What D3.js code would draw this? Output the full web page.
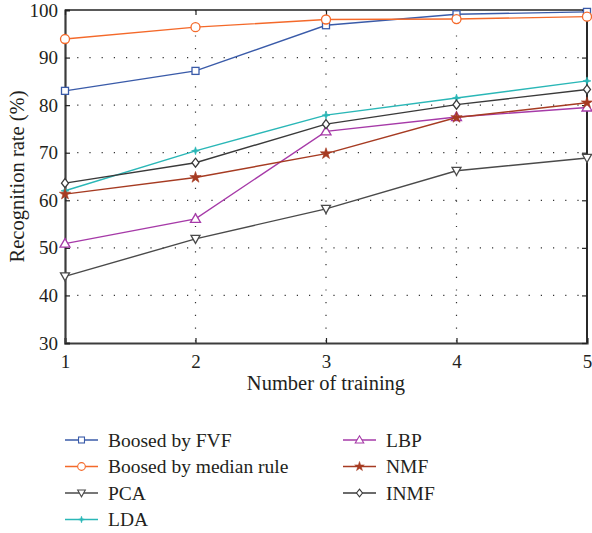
<!DOCTYPE html>
<html>
<head>
<meta charset="utf-8">
<script src="https://cdn.jsdelivr.net/npm/d3@7"></script>
<style>
body { margin: 0; background: #fff; }
text { font-family: "Liberation Serif", "DejaVu Serif", serif; fill: #231f20; }
</style>
</head>
<body>
<script>
var trainings = [1, 2, 3, 4, 5];
var yTicks = [30, 40, 50, 60, 70, 80, 90, 100];

var fvf = [83, 87.2, 96.8, 99.1, 99.6];
var median = [93.9, 96.4, 98, 98.1, 98.6];
var pca = [44, 51.9, 58.2, 66.2, 68.9];
var lda = [62, 70.4, 77.9, 81.5, 85.1];
var lbp = [50.9, 56.1, 74.5, 77.5, 79.5];
var nmf = [61.3, 64.8, 69.8, 77.4, 80.5];
var inmf = [63.6, 67.9, 76, 80.1, 83.3];

var seriesNames = ['Boosed by FVF', 'Boosed by median rule', 'PCA', 'LDA', 'LBP', 'NMF', 'INMF'];
var seriesValues = [fvf, median, pca, lda, lbp, nmf, inmf];
var seriesColors = ['#3a5ba9', '#f4692a', '#4a4a4a', '#2ab7b7', '#a63aa8', '#a63b22', '#3a3a3a'];
var seriesMarkers = ['square', 'circle', 'tridown', 'star4', 'triup', 'star', 'diamond'];

var width = 592, height = 533;
var m = {left: 65, right: 587, top: 10, bottom: 343};

var svg = d3.select('body').append('svg').attr('width', width).attr('height', height);

var x = d3.scaleLinear().domain([1, 5]).range([m.left, m.right]);
var y = d3.scaleLinear().domain([30, 100]).range([m.bottom, m.top]);

// dotted grid
svg.append('g').selectAll('line')
	.data(yTicks.slice(1, -1))
	.enter().append('line')
		.attr('x1', m.left).attr('x2', m.right)
		.attr('y1', d => y(d)).attr('y2', d => y(d))
		.attr('stroke', '#333').attr('stroke-width', 1.2)
		.attr('stroke-dasharray', '1.2,11');
svg.append('g').selectAll('line')
	.data(trainings.slice(1, -1))
	.enter().append('line')
		.attr('x1', d => x(d)).attr('x2', d => x(d))
		.attr('y1', m.top).attr('y2', m.bottom)
		.attr('stroke', '#333').attr('stroke-width', 1.2)
		.attr('stroke-dasharray', '1.2,11.5');

// frame: top and right, inward ticks
svg.append('line').attr('x1', m.left).attr('x2', m.right).attr('y1', m.top).attr('y2', m.top)
	.attr('stroke', '#222').attr('stroke-width', 1.5);
svg.append('line').attr('x1', m.right).attr('x2', m.right).attr('y1', m.top).attr('y2', m.bottom)
	.attr('stroke', '#111').attr('stroke-width', 1.8);

var xAxis = svg.append('g').attr('transform', 'translate(0,' + m.bottom + ')')
	.call(d3.axisBottom(x).tickValues(trainings).tickFormat(d3.format('d')).tickSize(-5).tickPadding(12));
var yAxis = svg.append('g').attr('transform', 'translate(' + m.left + ',0)')
	.call(d3.axisLeft(y).tickValues(yTicks).tickSize(-5).tickPadding(7));
svg.append('g').attr('transform', 'translate(0,' + m.top + ')')
	.call(d3.axisTop(x).tickValues(trainings).tickFormat('').tickSize(-5))
	.select('.domain').remove();
svg.append('g').attr('transform', 'translate(' + m.right + ',0)')
	.call(d3.axisRight(y).tickValues(yTicks).tickFormat('').tickSize(-5))
	.select('.domain').remove();

svg.selectAll('.tick line').attr('stroke', '#222').attr('stroke-width', 1.2);
[xAxis, yAxis].forEach(a => {
	a.select('.domain').attr('stroke', '#3c3c3c').attr('stroke-width', 2.2);
	a.selectAll('text').style('font-size', '19px').attr('fill', '#231f20')
		.style('font-family', '"Liberation Serif", "DejaVu Serif", serif');
});

// axis titles
svg.append('text')
	.attr('x', (m.left + m.right) / 2).attr('y', 390)
	.attr('text-anchor', 'middle')
	.attr('font-size', 20.5)
	.text('Number of training');
svg.append('text')
	.attr('transform', 'translate(24,' + ((m.top + m.bottom) / 2) + ') rotate(-90)')
	.attr('text-anchor', 'middle')
	.attr('font-size', 20.5)
	.text('Recognition rate (%)');

function marker(g, type, color) {
	var s;
	if (type === 'square') {
		g.append('rect').attr('x', -3.5).attr('y', -3.5).attr('width', 7).attr('height', 7)
			.attr('fill', 'white').attr('stroke', color).attr('stroke-width', 1.3);
	} else if (type === 'circle') {
		g.append('circle').attr('r', 4.5).attr('fill', 'white').attr('stroke', color).attr('stroke-width', 1.3);
	} else if (type === 'tridown') {
		g.append('path').attr('d', 'M-4.5,-3.5L4.5,-3.5L0,4.5Z')
			.attr('fill', 'white').attr('stroke', color).attr('stroke-width', 1.3);
	} else if (type === 'triup') {
		g.append('path').attr('d', 'M-5,3.5L5,3.5L0,-5Z')
			.attr('fill', 'white').attr('stroke', color).attr('stroke-width', 1.3);
	} else if (type === 'diamond') {
		g.append('path').attr('d', 'M0,-4.5L3.5,0L0,4.5L-3.5,0Z')
			.attr('fill', 'white').attr('stroke', color).attr('stroke-width', 1.3);
	} else if (type === 'star') {
		s = d3.symbol().type(d3.symbolStar).size(40);
		g.append('path').attr('d', s()).attr('fill', color).attr('stroke', color).attr('stroke-width', 0.6);
	} else if (type === 'star4') {
		g.append('path').attr('d', 'M0,-4L1,-1L4,0L1,1L0,4L-1,1L-4,0L-1,-1Z')
			.attr('fill', color).attr('stroke', color).attr('stroke-width', 0.6);
	}
}

var line = d3.line().x((d, i) => x(trainings[i])).y(d => y(d));

seriesValues.forEach((vals, k) => {
	svg.append('path')
		.datum(vals)
		.attr('d', line)
		.attr('fill', 'none')
		.attr('stroke', seriesColors[k])
		.attr('stroke-width', 1.4);
	vals.forEach((v, i) => {
		var g = svg.append('g').attr('transform', 'translate(' + x(trainings[i]) + ',' + y(v) + ')');
		marker(g, seriesMarkers[k], seriesColors[k]);
	});
});

// legend
var legendPos = [[65, 440], [65, 466.5], [65, 493], [65, 519.5], [343, 440], [343, 466.5], [343, 493]];
seriesNames.forEach((name, k) => {
	var p = legendPos[k];
	svg.append('line')
		.attr('x1', p[0]).attr('x2', p[0] + 33)
		.attr('y1', p[1]).attr('y2', p[1])
		.attr('stroke', seriesColors[k]).attr('stroke-width', 1.4);
	var g = svg.append('g').attr('transform', 'translate(' + (p[0] + 16.5) + ',' + p[1] + ') scale(0.85)');
	marker(g, seriesMarkers[k], seriesColors[k]);
	svg.append('text')
		.attr('x', p[0] + 43).attr('y', p[1] + 6.5)
		.attr('font-size', 19.5)
		.text(name);
});
</script>
</body>
</html>
